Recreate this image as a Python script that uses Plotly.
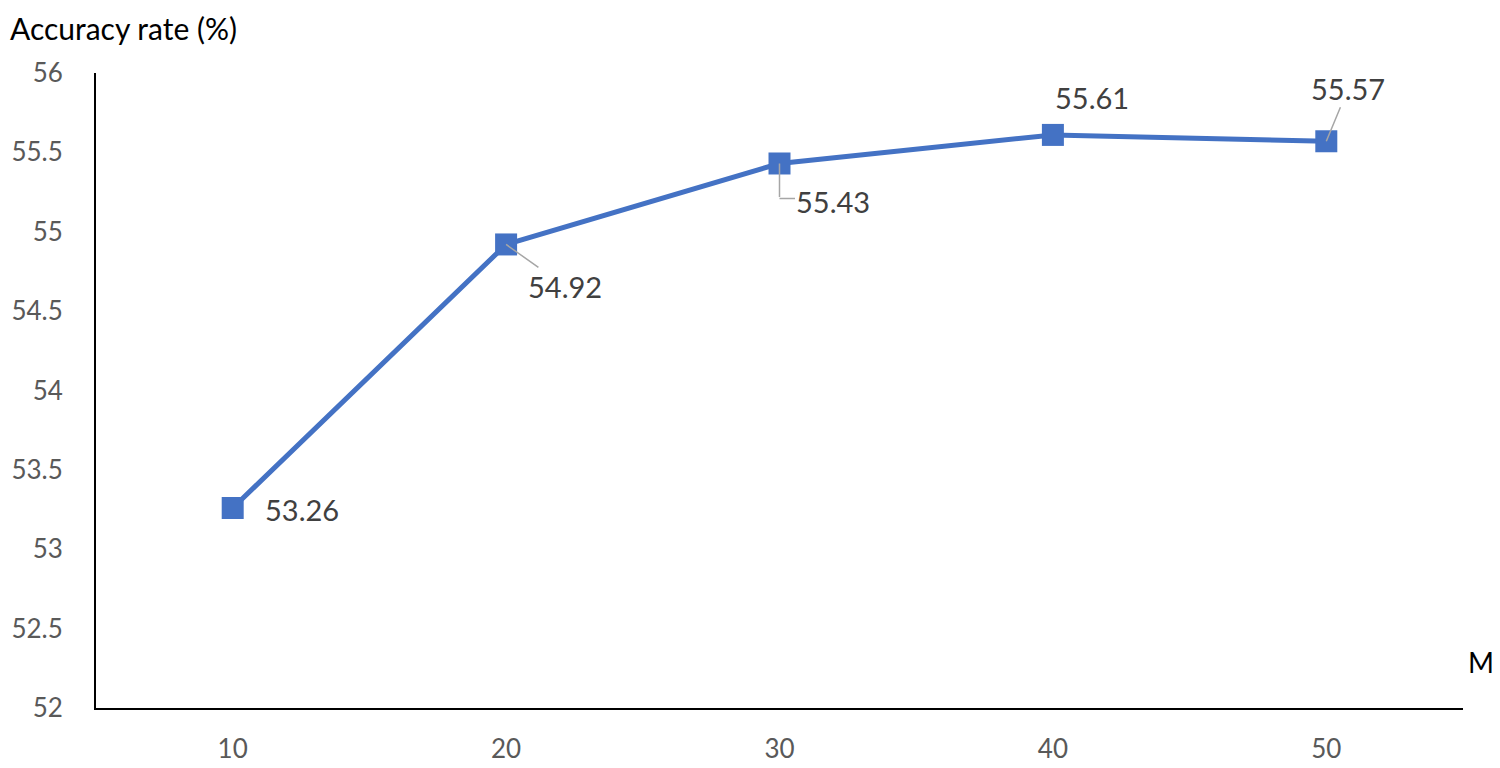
import plotly.graph_objects as go

categories = ["10", "20", "30", "40", "50"]
accuracy = [53.26, 54.92, 55.43, 55.61, 55.57]
y_ticks = [52, 52.5, 53, 53.5, 54, 54.5, 55, 55.5, 56]
# label offsets (pixels) and leader style: None, "straight" or "elbow"
label_offsets = [(69, 2, None), (59, 42, "straight"), (53, 38, "elbow"), (39, -37, None), (22, -53, "straight")]

BLUE = "#4472C4"
LEADER = "#A6A6A6"
FONT = "Lato, Open Sans, sans-serif"

fig = go.Figure()
fig.add_trace(go.Scatter(
    x=categories, y=accuracy, mode="lines+markers",
    line=dict(color=BLUE, width=5),
    marker=dict(symbol="square", size=22, color=BLUE),
    showlegend=False, hoverinfo="skip",
))

for i, (val, (ax, ay, leader)) in enumerate(zip(accuracy, label_offsets)):
    fig.add_annotation(
        x=i, y=val, text=f"{val:.2f}", showarrow=True,
        arrowhead=0, arrowwidth=1.5,
        arrowcolor=LEADER if leader == "straight" else "rgba(0,0,0,0)",
        ax=ax, ay=ay, standoff=0, startstandoff=0,
        font=dict(family=FONT, size=29, color="#404040"),
    )
    if leader == "elbow":
        # vertical segment down from the marker, then horizontal to the label
        fig.add_annotation(x=i, y=val, text="", showarrow=True, arrowhead=0, arrowwidth=1.5,
                           arrowcolor=LEADER, ax=0, ay=35, standoff=0, startstandoff=0)
        fig.add_annotation(x=i, y=val, text="", showarrow=True, arrowhead=0, arrowwidth=1.5,
                           arrowcolor=LEADER, ax=17, ay=0, yshift=-35, standoff=0, startstandoff=0)

fig.add_annotation(xref="paper", yref="paper", x=-0.0637, y=1.1, xanchor="left", yanchor="top",
                   text="Accuracy rate (%)", showarrow=False, borderpad=0,
                   font=dict(family=FONT, size=30, color="#000000"))
fig.add_annotation(xref="paper", yref="paper", x=1.0132, y=0.0724, xanchor="center", yanchor="middle",
                   text="M", showarrow=False,
                   font=dict(family=FONT, size=28, color="#000000"))

fig.update_xaxes(
    type="category", range=[-0.5, 4.5], showgrid=False, zeroline=False, automargin=False,
    showline=True, linecolor="#000000", linewidth=2, ticks="",
    tickfont=dict(family=FONT, size=26, color="#595959"), ticklabelstandoff=17,
)
fig.update_yaxes(
    range=[52, 56], tickvals=y_ticks, ticktext=[f"{v:g}" for v in y_ticks], automargin=False,
    showgrid=False, zeroline=False, showline=True, linecolor="#000000", linewidth=2,
    ticks="", tickfont=dict(family=FONT, size=26, color="#595959"), ticklabelstandoff=26,
)
fig.update_layout(
    width=1492, height=760, plot_bgcolor="white", paper_bgcolor="white",
    margin=dict(l=88, r=37, t=65, b=60), font=dict(family=FONT),
)
fig.write_html("out.html")
